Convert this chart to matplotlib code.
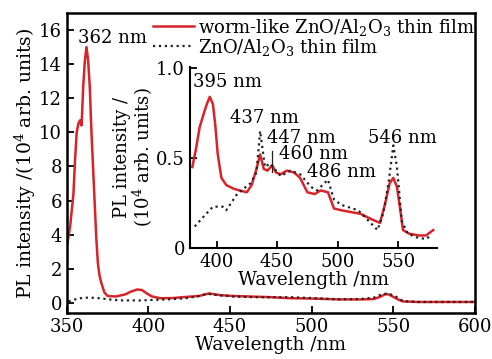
import matplotlib
matplotlib.use("Agg")
import matplotlib.pyplot as plt

plt.rcParams['font.family'] = ['DejaVu Serif']
plt.rcParams['mathtext.fontset'] = 'dejavuserif'

RED = '#d8232a'

# Main panel data (10^4 arb. units)
wl_red = [350, 352, 354, 355, 356, 357, 358, 359, 360, 361, 362, 363, 364, 365, 366, 367, 368, 369,
          370, 371, 373, 375, 380, 386, 389, 393, 396, 399, 402, 407, 415, 421, 431, 437, 444, 452,
          462, 475, 487, 500, 517, 530, 538, 542, 545, 547, 550, 553, 556, 565, 580, 600]
pl_red = [3.3, 4.5, 6.4, 8.4, 10.0, 10.5, 10.7, 10.4, 12.7, 14.2, 15.0, 14.2, 12.7, 10.1, 8.0, 5.9, 3.8, 2.3,
          1.6, 1.2, 0.6, 0.4, 0.37, 0.5, 0.65, 0.78, 0.75, 0.55, 0.38, 0.27, 0.28, 0.33, 0.4, 0.55, 0.45, 0.4,
          0.37, 0.33, 0.27, 0.25, 0.2, 0.2, 0.22, 0.35, 0.5, 0.5, 0.35, 0.2, 0.08, 0.05, 0.05, 0.05]

wl_blk = [351, 355, 360, 365, 370, 376, 383, 390, 395, 403, 411, 418, 423, 430, 436, 442, 452, 466,
          480, 487, 500, 517, 530, 538, 543, 547, 551, 556, 565, 580, 600]
pl_blk = [0.08, 0.2, 0.3, 0.3, 0.27, 0.2, 0.14, 0.14, 0.14, 0.17, 0.2, 0.24, 0.27, 0.38, 0.53, 0.45, 0.37, 0.33,
          0.33, 0.33, 0.28, 0.2, 0.22, 0.3, 0.5, 0.55, 0.4, 0.1, 0.05, 0.05, 0.05]

# Inset data
wl_in_red = [380, 383, 386, 390, 392, 394.4, 397, 399, 401, 404, 408, 414, 419, 425, 429, 433, 436, 439,
             442, 446, 449, 453, 458, 464, 469, 475, 481, 486, 492, 497, 503, 511, 519, 528, 535, 539,
             543, 546, 549, 552, 554, 559, 567, 573, 579]
pl_in_red = [0.45, 0.55, 0.67, 0.76, 0.8, 0.84, 0.80, 0.68, 0.52, 0.39, 0.35, 0.33, 0.32, 0.31, 0.35, 0.44, 0.52, 0.44,
             0.43, 0.46, 0.42, 0.41, 0.43, 0.42, 0.39, 0.31, 0.30, 0.32, 0.31, 0.22, 0.21, 0.20, 0.19, 0.16, 0.14, 0.24,
             0.36, 0.39, 0.34, 0.2, 0.10, 0.08, 0.07, 0.07, 0.10]

wl_in_blk = [382, 390, 397, 405, 408, 417, 428, 433, 436, 440, 444, 453, 461, 469, 478, 483, 492, 497,
             503, 517, 533, 538, 542, 546, 549, 553, 558, 565, 573, 577]
pl_in_blk = [0.12, 0.18, 0.23, 0.23, 0.21, 0.30, 0.36, 0.42, 0.65, 0.45, 0.47, 0.40, 0.43, 0.41, 0.34, 0.32, 0.38, 0.27,
             0.24, 0.21, 0.10, 0.2, 0.36, 0.57, 0.45, 0.15, 0.08, 0.06, 0.05, 0.07]

main_xticks = [350, 400, 450, 500, 550, 600]
main_yticks = [0, 2, 4, 6, 8, 10, 12, 14, 16]
inset_xticks = [400, 450, 500, 550]
inset_yticks = [0, 0.5, 1.0]

labels = ['worm-like ZnO/Al$_2$O$_3$ thin film', 'ZnO/Al$_2$O$_3$ thin film']

FS = 13

fig = plt.figure(figsize=(4.92, 3.59), dpi=100)
ax = fig.add_axes([0.136, 0.128, 0.829, 0.836])
ax.plot(wl_red, pl_red, color=RED, lw=1.8, label=labels[0])
ax.plot(wl_blk, pl_blk, color='#222222', lw=1.6, ls=':', label=labels[1])
ax.set_xlim(350, 600)
ax.set_ylim(-0.6, 17.0)
ax.set_xticks(main_xticks)
ax.set_yticks(main_yticks)
ax.tick_params(direction='in', labelsize=FS, width=1.3, length=5)
for s in ax.spines.values():
    s.set_linewidth(1.8)
ax.set_xlabel('Wavelength /nm', fontsize=13.3, labelpad=0)
ax.set_ylabel('PL intensity /(10$^4$ arb. units)', fontsize=13.5, labelpad=1)
ax.legend(loc='upper left', bbox_to_anchor=(0.18, 1.03), frameon=False, fontsize=FS,
          handlelength=2.3, handletextpad=0.2, labelspacing=-0.05, borderpad=0.2)
ax.text(356.5, 15.0, '362 nm', fontsize=FS, va='bottom', ha='left')

ins = fig.add_axes([0.386, 0.309, 0.502, 0.504])
ins.patch.set_alpha(0)
ins.plot(wl_in_red, pl_in_red, color=RED, lw=1.8)
ins.plot(wl_in_blk, pl_in_blk, color='#222222', lw=1.6, ls=':')
ins.set_xlim(378, 582)
ins.set_ylim(0, 1.005)
ins.set_xticks(inset_xticks)
ins.set_yticks(inset_yticks)
ins.set_yticklabels(['0', '0.5', '1.0'])
ins.spines['top'].set_visible(False)
ins.spines['right'].set_visible(False)
for s in ['left', 'bottom']:
    ins.spines[s].set_linewidth(1.5)
ins.tick_params(direction='in', labelsize=FS, width=1.3, length=5)
ins.set_xlabel('Wavelength /nm', fontsize=13.3, labelpad=0)
ins.set_ylabel('PL intensity /\n(10$^4$ arb. units)', fontsize=13, labelpad=1, linespacing=1.0)

ins.text(380.3, 0.92, '395 nm', fontsize=FS, va='center', ha='left')
ins.text(411, 0.72, '437 nm', fontsize=FS, va='center', ha='left')
ins.text(441.5, 0.61, '447 nm', fontsize=FS, va='center', ha='left')
ins.text(451.5, 0.52, '460 nm', fontsize=FS, va='center', ha='left')
ins.text(474.7, 0.42, '486 nm', fontsize=FS, va='center', ha='left')
ins.text(525, 0.61, '546 nm', fontsize=FS, va='center', ha='left')
ins.plot([446, 446], [0.42, 0.54], color='#222222', lw=0.9)

fig.savefig('out.png', dpi=100)
